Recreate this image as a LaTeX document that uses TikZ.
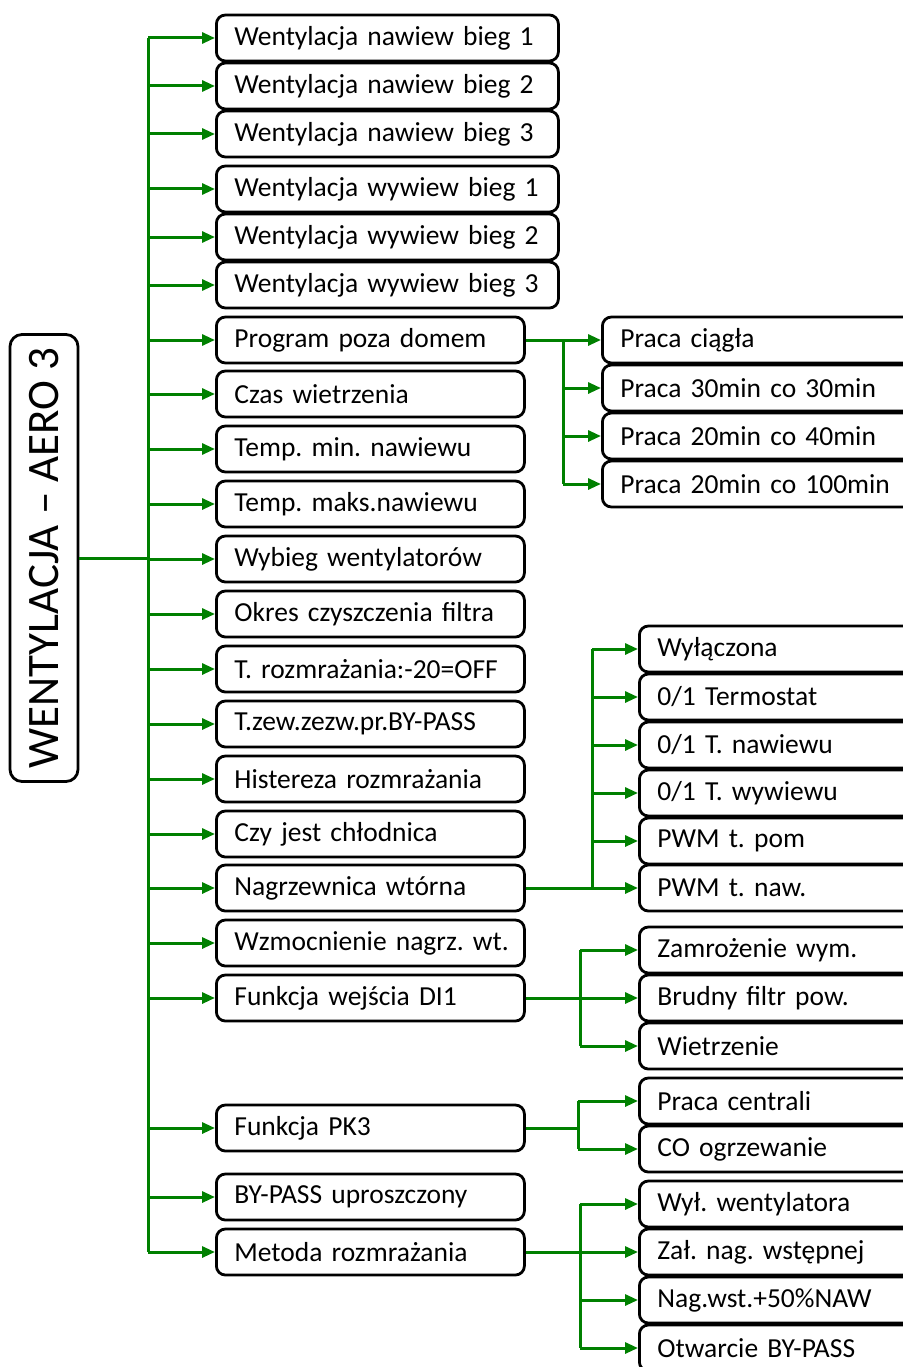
\documentclass[tikz,border=0pt]{standalone}
\usepackage{fontspec}
\setmainfont{Carlito}
\frenchspacing
\usetikzlibrary{arrows.meta}
\definecolor{leafgreen}{RGB}{0,128,0}
\tikzset{
  item/.style={draw, line width=2.8pt, rounded corners=9pt, anchor=west, minimum height=46pt,
    inner xsep=18pt, inner ysep=0pt, align=left, font=\fontsize{27.5}{30}\selectfont},
  wide/.style={item, text width=306pt},
  mid/.style={item, text width=272pt},
  sub/.style={item, text width=290pt},
  link/.style={draw=leafgreen, line width=3pt},
  feed/.style={link, -{Triangle[length=13pt,width=11pt]}},
}
\begin{document}
\begin{tikzpicture}[x=1pt,y=1pt]
\useasboundingbox (0,0) rectangle (902,-1367);
% root
\node[draw, rotate=90, line width=2.8pt, rounded corners=12pt, minimum width=447pt, minimum height=68pt,
  inner sep=0pt, font=\fontsize{45}{48}\selectfont] (root) at (44,-558) {WENTYLACJA – AERO 3};
% first level
\node[wide] (n1) at (215,-38) {Wentylacja nawiew bieg 1};
\node[wide] (n2) at (215,-86) {Wentylacja nawiew bieg 2};
\node[wide] (n3) at (215,-134) {Wentylacja nawiew bieg 3};
\node[wide] (n4) at (215,-189) {Wentylacja wywiew bieg 1};
\node[wide] (n5) at (215,-237) {Wentylacja wywiew bieg 2};
\node[wide] (n6) at (215,-285) {Wentylacja wywiew bieg 3};
\node[mid] (prog) at (215,-340) {Program poza domem};
\node[mid] (czas) at (215,-394) {Czas wietrzenia};
\node[mid] (tmin) at (215,-449) {Temp. min. nawiewu};
\node[mid] (tmax) at (215,-504) {Temp. maks.nawiewu};
\node[mid] (wyb) at (215,-559) {Wybieg wentylatorów};
\node[mid] (okr) at (215,-614) {Okres czyszczenia filtra};
\node[mid] (trozm) at (215,-669) {T. rozmrażania:-20=OFF};
\node[mid] (tzew) at (215,-724) {T.zew.zezw.pr.BY-PASS};
\node[mid] (hist) at (215,-779) {Histereza rozmrażania};
\node[mid] (chl) at (215,-834) {Czy jest chłodnica};
\node[mid] (nagr) at (215,-888) {Nagrzewnica wtórna};
\node[mid] (wzm) at (215,-943) {\mbox{Wzmocnienie nagrz. wt.}};
\node[mid] (di) at (215,-998) {Funkcja wejścia DI1};
\node[mid] (pk) at (215,-1128) {Funkcja PK3};
\node[mid] (byp) at (215,-1197) {BY-PASS uproszczony};
\node[mid] (met) at (215,-1252) {Metoda rozmrażania};
% second level
\node[sub] (pr1) at (601,-340) {Praca ciągła};
\node[sub] (pr2) at (601,-388) {Praca 30min co 30min};
\node[sub] (pr3) at (601,-436) {Praca 20min co 40min};
\node[sub] (pr4) at (601,-484) {Praca 20min co 100min};
\node[sub] (ng1) at (638,-649) {Wyłączona};
\node[sub] (ng2) at (638,-697) {0/1 Termostat};
\node[sub] (ng3) at (638,-745) {0/1 T. nawiewu};
\node[sub] (ng4) at (638,-793) {0/1 T. wywiewu};
\node[sub] (ng5) at (638,-841) {PWM t. pom};
\node[sub] (ng6) at (638,-888) {PWM t. naw.};
\node[sub] (di1) at (638,-950) {Zamrożenie wym.};
\node[sub] (di2) at (638,-998) {Brudny filtr pow.};
\node[sub] (di3) at (638,-1046) {Wietrzenie};
\node[sub] (pk1) at (638,-1101) {Praca centrali};
\node[sub] (pk2) at (638,-1149) {CO ogrzewanie};
\node[sub] (mt1) at (638,-1204) {Wył. wentylatora};
\node[sub] (mt2) at (638,-1252) {Zał. nag. wstępnej};
\node[sub] (mt3) at (638,-1300) {Nag.wst.+50\%NAW};
\node[sub] (mt4) at (638,-1348) {Otwarcie BY-PASS};
% spine
\coordinate (sp) at (148,-38);
\draw[link] (sp) -- (sp |- met.west);
\draw[link] (root.south) -- (root.south -| sp);
\draw[feed] (sp |- n1.west) -- (n1.west);
\draw[feed] (sp |- n2.west) -- (n2.west);
\draw[feed] (sp |- n3.west) -- (n3.west);
\draw[feed] (sp |- n4.west) -- (n4.west);
\draw[feed] (sp |- n5.west) -- (n5.west);
\draw[feed] (sp |- n6.west) -- (n6.west);
\draw[feed] (sp |- prog.west) -- (prog.west);
\draw[feed] (sp |- czas.west) -- (czas.west);
\draw[feed] (sp |- tmin.west) -- (tmin.west);
\draw[feed] (sp |- tmax.west) -- (tmax.west);
\draw[feed] (sp |- wyb.west) -- (wyb.west);
\draw[feed] (sp |- okr.west) -- (okr.west);
\draw[feed] (sp |- trozm.west) -- (trozm.west);
\draw[feed] (sp |- tzew.west) -- (tzew.west);
\draw[feed] (sp |- hist.west) -- (hist.west);
\draw[feed] (sp |- chl.west) -- (chl.west);
\draw[feed] (sp |- nagr.west) -- (nagr.west);
\draw[feed] (sp |- wzm.west) -- (wzm.west);
\draw[feed] (sp |- di.west) -- (di.west);
\draw[feed] (sp |- pk.west) -- (pk.west);
\draw[feed] (sp |- byp.west) -- (byp.west);
\draw[feed] (sp |- met.west) -- (met.west);
% program poza domem
\coordinate (jp) at (563,-340);
\draw[link] (prog.east) -- (jp) -- (jp |- pr4.west);
\draw[feed] (jp) -- (pr1.west);
\draw[feed] (jp |- pr2.west) -- (pr2.west);
\draw[feed] (jp |- pr3.west) -- (pr3.west);
\draw[feed] (jp |- pr4.west) -- (pr4.west);
% nagrzewnica
\coordinate (jn) at (592,-888);
\draw[link] (nagr.east) -- (jn) -- (jn |- ng1.west);
\draw[feed] (jn |- ng1.west) -- (ng1.west);
\draw[feed] (jn |- ng2.west) -- (ng2.west);
\draw[feed] (jn |- ng3.west) -- (ng3.west);
\draw[feed] (jn |- ng4.west) -- (ng4.west);
\draw[feed] (jn |- ng5.west) -- (ng5.west);
\draw[feed] (jn) -- (ng6.west);
% wejscie DI1
\coordinate (jd) at (580,-998);
\draw[link] (di.east) -- (jd);
\draw[link] (jd |- di1.west) -- (jd |- di3.west);
\draw[feed] (jd |- di1.west) -- (di1.west);
\draw[feed] (jd) -- (di2.west);
\draw[feed] (jd |- di3.west) -- (di3.west);
% PK3
\coordinate (jk) at (578,-1128);
\draw[link] (pk.east) -- (jk);
\draw[link] (jk |- pk1.west) -- (jk |- pk2.west);
\draw[feed] (jk |- pk1.west) -- (pk1.west);
\draw[feed] (jk |- pk2.west) -- (pk2.west);
% metoda rozmrazania
\coordinate (jm) at (580,-1252);
\draw[link] (met.east) -- (jm);
\draw[link] (jm |- mt1.west) -- (jm |- mt4.west);
\draw[feed] (jm |- mt1.west) -- (mt1.west);
\draw[feed] (jm) -- (mt2.west);
\draw[feed] (jm |- mt3.west) -- (mt3.west);
\draw[feed] (jm |- mt4.west) -- (mt4.west);
\end{tikzpicture}
\end{document}
